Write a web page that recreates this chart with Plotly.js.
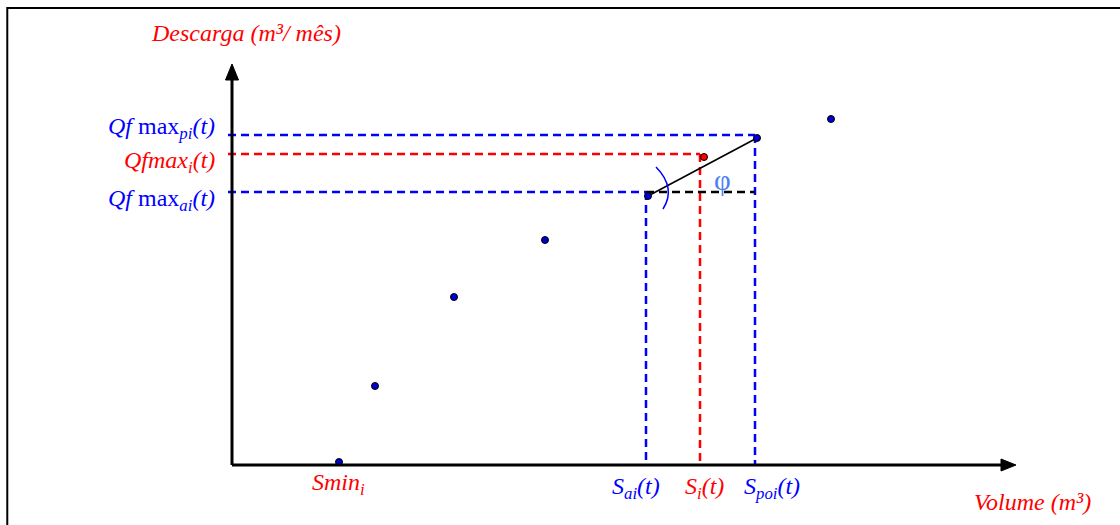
<!DOCTYPE html>
<html>
<head>
<meta charset="utf-8">
<script src="https://cdn.plot.ly/plotly-3.0.1.min.js"></script>
<style>html,body{margin:0;padding:0;background:#fff;}#chart{width:1120px;height:525px;}</style>
</head>
<body>
<div id="chart"></div>
<script>
// Scatter points (volume, discharge) in arbitrary units
const pointX = [10.7, 14.3, 22.2, 31.3, 59.9];
const pointY = [0.3, 7.9, 16.8, 22.5, 34.6];
// key points
const Sai = 41.6, QaiPt = 26.9;      // point a
const Spoi = 52.5, QpiPt = 32.7;     // point p
const Si = 47.2, QiPt = 30.8;        // interpolated point (red)
// guide levels
const QfmaxPi = 33.0, QfmaxI = 31.1, QfmaxAi = 27.3;
const xSai = 41.4, xSi = 46.8, xSpoi = 52.3;
// labels
const yLabels = ["<i>Qf</i> max<sub><i>pi</i></sub><i>(t)</i>", "<i>Qfmax<sub>i</sub>(t)</i>", "<i>Qf</i> max<sub><i>ai</i></sub><i>(t)</i>"];
const yLabelColors = ["#0000ff", "#ff0000", "#0000ff"];
const yLabelVals = [33.7, 30.3, 26.5];
const xLabels = ["<i>Smin<sub>i</sub></i>", "<i>S<sub>ai</sub>(t)</i>", "<i>S<sub>i</sub>(t)</i>", "<i>S<sub>poi</sub>(t)</i>"];
const xLabelColors = ["#ff0000", "#0000ff", "#ff0000", "#0000ff"];
const xLabelVals = [10.6, 40.4, 47.2, 54.0];
const xLabelY = [-1.9, -2.3, -2.3, -2.3];

const BLUE = "#0000ff", RED = "#ff0000";
const dash = "8px,5px";
const traces = [];
function dline(xs, ys, color) {
  traces.push({x: xs, y: ys, mode: "lines", line: {color: color, width: 2.5, dash: dash}, hoverinfo: "skip"});
}
// dashed guides
dline([-0.4, xSpoi], [QfmaxPi, QfmaxPi], BLUE);
dline([xSpoi, xSpoi], [QfmaxPi, 0], BLUE);
dline([-0.4, xSi], [QfmaxI, QfmaxI], RED);
dline([xSi, xSi], [QfmaxI, 0], RED);
dline([-0.4, xSai], [QfmaxAi, QfmaxAi], BLUE);
dline([xSai, xSai], [QfmaxAi, 0], BLUE);
dline([xSai, xSpoi], [QfmaxAi, QfmaxAi], "#000000");
// solid line between a and p
traces.push({x: [Sai, Spoi], y: [QaiPt, QpiPt], mode: "lines", line: {color: "#000", width: 1.6}, hoverinfo: "skip"});
// points
traces.push({x: pointX.concat([Sai, Spoi]), y: pointY.concat([QaiPt, QpiPt]), mode: "markers",
  marker: {size: 7, color: "#0000cc", line: {color: "#000", width: 1}}, hoverinfo: "skip"});
traces.push({x: [Si], y: [QiPt], mode: "markers",
  marker: {size: 7, color: "#ff0000", line: {color: "#000", width: 1}}, hoverinfo: "skip"});

const font = "Liberation Serif, Times New Roman, serif";
const FS = 24;
const annotations = [];
annotations.push({x: 1.4, y: 43.2, text: "<i>Descarga (m³/ mês)</i>", showarrow: false, font: {family: font, size: FS, color: RED}});
annotations.push({x: 80.0, y: -3.7, text: "<i>Volume (m³)</i>", showarrow: false, font: {family: font, size: FS, color: RED}});
annotations.push({x: 49.0, y: 28.5, text: "φ", showarrow: false, font: {family: font, size: 29, color: "#4a7ff0"}});
yLabels.forEach((t, i) => annotations.push({x: -1.5, y: yLabelVals[i], text: t, xanchor: "right", showarrow: false,
  font: {family: font, size: FS, color: yLabelColors[i]}}));
xLabels.forEach((t, i) => annotations.push({x: xLabelVals[i], y: xLabelY[i], text: t, showarrow: false,
  font: {family: font, size: FS, color: xLabelColors[i]}}));

const shapes = [
  // frame
  {type: "path", xref: "paper", yref: "paper", path: "M 0.0065,-0.1 L 0.0065,0.9848 L 1.1,0.9848", line: {color: "#000", width: 2}},
  // axes
  {type: "line", x0: 0, y0: 0, x1: 0, y1: 39, line: {color: "#000", width: 3}},
  {type: "line", x0: 0, y0: 0, x1: 77.5, y1: 0, line: {color: "#000", width: 3}},
  {type: "path", path: "M 0,40.1 L -0.65,38.5 L 0.65,38.5 Z", fillcolor: "#000", line: {color: "#000", width: 1}},
  {type: "path", path: "M 78.4,0 L 76.9,0.6 L 76.9,-0.6 Z", fillcolor: "#000", line: {color: "#000", width: 1}},
  // angle arc
  {type: "path", path: "M 42.4,29.8 Q 44.45,27.7 43.1,25.6", line: {color: BLUE, width: 1.5}}
];

const layout = {
  width: 1120, height: 525,
  margin: {l: 0, r: 0, t: 0, b: 0},
  paper_bgcolor: "#fff", plot_bgcolor: "#fff",
  showlegend: false, hovermode: false,
  xaxis: {range: [-23.2, 88.8], visible: false, fixedrange: true},
  yaxis: {range: [-6.0, 46.5], visible: false, fixedrange: true},
  annotations: annotations,
  shapes: shapes
};
Plotly.newPlot("chart", traces, layout, {staticPlot: true, displayModeBar: false});
</script>
</body>
</html>
